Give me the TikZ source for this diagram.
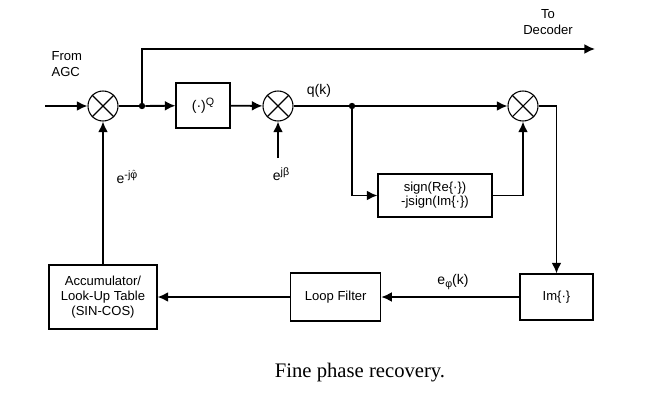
\documentclass[tikz,border=0pt]{standalone}
\usepackage{fontspec}
\setmainfont{Liberation Sans}
\newfontfamily\capfont{Liberation Serif}
\usetikzlibrary{arrows.meta}
\newcommand{\upidx}[1]{\raisebox{3.6pt}{\fontsize{8}{8}\selectfont #1}}
\newcommand{\lowidx}[1]{\raisebox{-2pt}{\fontsize{8}{8}\selectfont #1}}

\begin{document}
\begin{tikzpicture}[
        x=0.75pt, y=-0.75pt,
        every node/.style={font=\fontsize{9.8}{11.5}\selectfont, inner sep=1pt},
        block/.style={draw, line width=0.8pt, align=center},
        mixer/.style={draw, circle, line width=0.8pt, minimum size=22.5pt, inner sep=0pt},
        split/.style={circle, fill, inner sep=0pt, minimum size=4.8pt},
        sig/.style={line width=1.4pt},
        arr/.style={sig, -{Latex[length=8pt, width=7.5pt]}},
    ]
    \useasboundingbox (0,0) rectangle (668,407);
    % mixers and blocks
    \node[mixer](mixA) at (103,106){};
    \node[block, minimum width=40.5pt, minimum height=33.75pt, font=\fontsize{10.5}{12}\selectfont](power) at (203,105.5){(·)\upidx{Q}};
    \node[mixer](mixB) at (278,106){};
    \node[mixer](mixC) at (523,106){};
    \node[block, minimum width=85.5pt, minimum height=32.25pt, font=\fontsize{9.8}{10.5}\selectfont](slicer) at (435,195.5){sign(Re\{·\})\\-jsign(Im\{·\})};
    \node[block, minimum width=54.75pt, minimum height=34.5pt](imag) at (556.5,297){Im\{·\}};
    \node[block, minimum width=67.5pt, minimum height=36pt](loopf) at (335.7,297){Loop Filter};
    \node[block, minimum width=81pt, minimum height=48pt, font=\fontsize{9.8}{11.25}\selectfont](accum) at (103,297){Accumulator/\\Look-Up Table\\(SIN-COS)};
    \foreach \m in {mixA,mixB,mixC}{
        \draw[line width=0.8pt] (\m.north west) -- (\m.south east) (\m.north east) -- (\m.south west);
    }
    % branch points and free ends
    \node[split](splitA) at (142,106){};
    \node[split](splitB) at (352,106){};
    \coordinate (agc) at (45,106);
    \coordinate (decoder) at (595,49);
    \coordinate (beta) at (278,158);
    % connectors
    \draw[arr] (agc) -- (mixA);
    \draw[sig] (mixA) -- (splitA);
    \draw[arr] (splitA) -- (power);
    \draw[arr] (splitA.center) |- (decoder);
    \draw[arr] (power) -- (mixB);
    \draw[arr] (beta) -- (mixB);
    \draw[sig] (mixB) -- (splitB);
    \draw[arr] (splitB) -- (mixC);
    \draw[arr] (splitB.center) |- (slicer);
    \draw[arr] (slicer) -| (mixC);
    \draw[arr] (mixC) -| (imag);
    \draw[arr] (imag) -- (loopf);
    \draw[arr] (loopf) -- (accum);
    \draw[arr] (accum) -- (mixA);
    % labels
    \node[anchor=west, align=left](agclbl) at (50,64){From\\AGC};
    \node[align=center](declbl) at (548,22){To\\Decoder};
    \node[font=\fontsize{10.5}{12}\selectfont](qlbl) at (319,91){q(k)};
    \node[font=\fontsize{10.5}{12}\selectfont](betalbl) at (281,174){e\upidx{jβ}};
    \node[font=\fontsize{10.5}{12}\selectfont](philbl) at (127,177){e\upidx{-j$\hat{\mbox{φ}}$}};
    \node[font=\fontsize{10.5}{12}\selectfont](errlbl) at (453,282){e\lowidx{φ}(k)};
    \node[font=\capfont\fontsize{15.5}{18}\selectfont](caption) at (360,373){Fine phase recovery.};
\end{tikzpicture}
\end{document}
